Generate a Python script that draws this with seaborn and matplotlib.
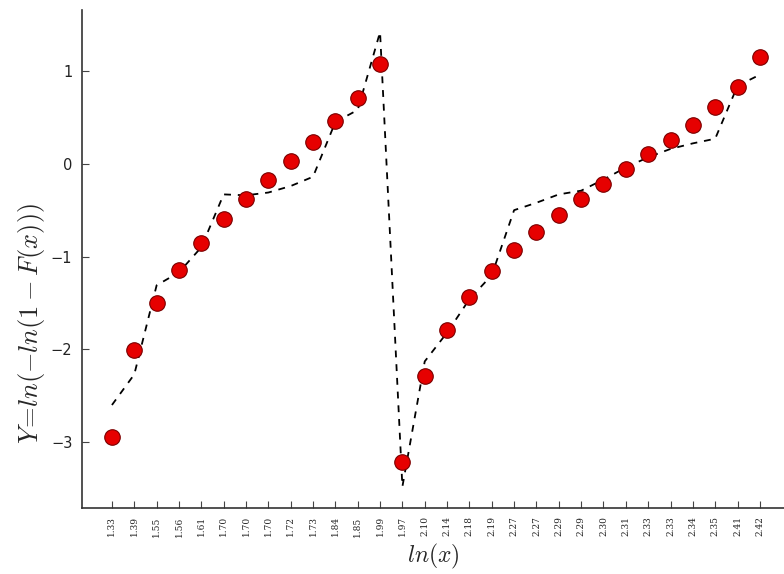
import matplotlib
matplotlib.use("Agg")
import matplotlib.pyplot as plt
import seaborn as sns
import pandas as pd
import numpy as np

# ln(x) tick labels, in plotting order
ln_x_labels = ["1.33", "1.39", "1.55", "1.56", "1.61", "1.70", "1.70", "1.70", "1.72", "1.73",
               "1.84", "1.85", "1.99", "1.97", "2.10", "2.14", "2.18", "2.19", "2.27", "2.27",
               "2.29", "2.29", "2.30", "2.31", "2.33", "2.33", "2.34", "2.35", "2.41", "2.42"]

# Observed Weibull plotting positions Y = ln(-ln(1-F(x)))
y_observed = [-2.94, -2.01, -1.50, -1.14, -0.85, -0.59, -0.38, -0.17, 0.03, 0.24,
              0.46, 0.71, 1.08, -3.21, -2.29, -1.79, -1.44, -1.16, -0.93, -0.73,
              -0.55, -0.38, -0.22, -0.06, 0.10, 0.26, 0.42, 0.61, 0.83, 1.15]

# Fitted values
y_fitted = [-2.60, -2.27, -1.31, -1.17, -0.90, -0.33, -0.34, -0.31, -0.24, -0.14,
            0.45, 0.58, 1.42, -3.48, -2.13, -1.82, -1.46, -1.20, -0.50, -0.42,
            -0.33, -0.29, -0.17, -0.04, 0.07, 0.16, 0.22, 0.27, 0.84, 0.96]

df = pd.DataFrame({
    "pos": np.arange(len(ln_x_labels)),
    "label": ln_x_labels,
    "observed": y_observed,
    "fitted": y_fitted,
})

sns.set_style("white")
plt.rcParams["mathtext.fontset"] = "cm"

fig = plt.figure(figsize=(7.84, 5.74), dpi=100)
ax = fig.add_axes([0.1046, 0.115, 0.8954, 0.868])

sns.lineplot(data=df, x="pos", y="fitted", sort=False, color="black", lw=1.3,
             dashes=False, ax=ax, zorder=2).lines[0].set_dashes([3.8, 3.8])
sns.scatterplot(data=df, x="pos", y="observed", color="#e60000", edgecolor="#7a0000",
                linewidth=0.8, s=125, ax=ax, zorder=3)

ax.set_xlim(-1.34, 30.08)
ax.set_ylim(-3.71, 1.66)
ax.set_xticks(df["pos"])
ax.set_xticklabels(df["label"], rotation=90, fontsize=6.5, family="DejaVu Serif",
                   color="#222222")
ax.set_yticks([-3, -2, -1, 0, 1])
ax.set_yticklabels(["\u22123", "\u22122", "\u22121", "0", "1"], fontsize=10.5,
                   color="#222222")
ax.tick_params(axis="both", direction="in", length=5, width=0.8, color="#444444",
               bottom=True, left=True)
ax.tick_params(axis="x", pad=6)
ax.tick_params(axis="y", pad=7)

for side in ("top", "right"):
    ax.spines[side].set_visible(False)
for side in ("left", "bottom"):
    ax.spines[side].set_color("#333333")
    ax.spines[side].set_linewidth(1.2)

ax.set_xlabel(r"$ln(x)$", fontsize=17, labelpad=4)
ax.set_ylabel(r"$Y\!=\!ln(-ln(1-F(x)))$", fontsize=19)
ax.yaxis.set_label_coords(-0.05, 0.37)

fig.savefig("out.png", dpi=100, facecolor="white")
